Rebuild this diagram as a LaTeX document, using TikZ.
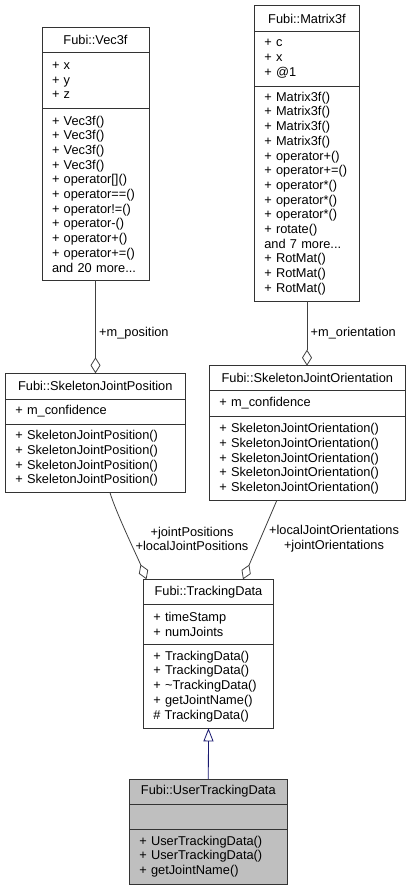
\documentclass[tikz,border=0pt]{standalone}
\usepackage{fontspec}
\setmainfont{Liberation Sans}
\usetikzlibrary{positioning,arrows.meta}
\definecolor{midnight}{RGB}{25,25,112}
\newcommand{\umlfont}{\fontsize{12.8}{14.7}\selectfont}

\begin{document}
\begin{tikzpicture}[x=1pt, y=-1pt,
  part/.style={draw=black!80, line width=0.9pt, anchor=north west, outer sep=0pt,
    inner xsep=10pt, inner ysep=0pt, font=\umlfont, align=left},
  title/.style={part, align=center},
  aggr/.style={draw=black!75, line width=0.8pt, -{Diamond[open, length=16pt, width=10pt]}},
  inherit/.style={draw=midnight, line width=0.8pt, -{Triangle[open, length=13pt, width=10pt]}},
  lbl/.style={font=\umlfont, align=center}]
\useasboundingbox (0,0) rectangle (411,891);

% Fubi::Vec3f
\node[title, text width=87pt, minimum height=25pt] (vecT) at (42,27.7) {Fubi::Vec3f};
\node[part, text width=87pt, minimum height=55.3pt, below=0pt of vecT] (vecA) {+ x\\+ y\\+ z};
\node[part, text width=87pt, minimum height=172pt, below=0pt of vecA] (vecM)
  {+ Vec3f()\\+ Vec3f()\\+ Vec3f()\\+ Vec3f()\\+ operator[]()\\+ operator==()\\+ operator!=()\\+ operator-()\\+ operator+()\\+ operator+=()\\and 20 more...};

% Fubi::Matrix3f
\node[title, text width=85.4pt, minimum height=26pt] (matT) at (254.3,5.7) {Fubi::Matrix3f};
\node[part, text width=85.4pt, minimum height=54.3pt, below=0pt of matT] (matA) {+ c\\+ x\\+ @1};
\node[part, text width=85.4pt, minimum height=215pt, below=0pt of matA] (matM)
  {+ Matrix3f()\\+ Matrix3f()\\+ Matrix3f()\\+ Matrix3f()\\+ operator+()\\+ operator+=()\\+ operator*()\\+ operator*()\\+ operator*()\\+ rotate()\\and 7 more...\\+ RotMat()\\+ RotMat()\\+ RotMat()};

% Fubi::SkeletonJointPosition
\node[title, text width=160pt, minimum height=25.7pt] (sjpT) at (5.3,373.3) {Fubi::SkeletonJointPosition};
\node[part, text width=160pt, minimum height=25pt, below=0pt of sjpT] (sjpA) {+ m\_confidence};
\node[part, text width=160pt, minimum height=68.7pt, below=0pt of sjpA] (sjpM)
  {+ SkeletonJointPosition()\\+ SkeletonJointPosition()\\+ SkeletonJointPosition()\\+ SkeletonJointPosition()};

% Fubi::SkeletonJointOrientation
\node[title, text width=176pt, minimum height=24.3pt] (sjoT) at (209.3,365.7) {Fubi::SkeletonJointOrientation};
\node[part, text width=176pt, minimum height=26.7pt, below=0pt of sjoT] (sjoA) {+ m\_confidence};
\node[part, text width=176pt, minimum height=84pt, below=0pt of sjoA] (sjoM)
  {+ SkeletonJointOrientation()\\+ SkeletonJointOrientation()\\+ SkeletonJointOrientation()\\+ SkeletonJointOrientation()\\+ SkeletonJointOrientation()};

% Fubi::TrackingData
\node[title, text width=110.4pt, minimum height=25pt] (tdT) at (143.3,579.3) {Fubi::TrackingData};
\node[part, text width=110.4pt, minimum height=40pt, below=0pt of tdT] (tdA) {+ timeStamp\\+ numJoints};
\node[part, text width=110.4pt, minimum height=84pt, below=0pt of tdA] (tdM)
  {+ TrackingData()\\+ TrackingData()\\+ \textasciitilde TrackingData()\\+ getJointName()\\\# TrackingData()};

% Fubi::UserTrackingData
\node[title, fill=gray!50, text width=138pt, minimum height=25.3pt] (utdT) at (129.3,779) {Fubi::UserTrackingData};
\node[part, fill=gray!50, text width=138pt, minimum height=25pt, below=0pt of utdT] (utdA) {};
\node[part, fill=gray!50, text width=138pt, minimum height=54.7pt, below=0pt of utdA] (utdM)
  {+ UserTrackingData()\\+ UserTrackingData()\\+ getJointName()};

% aggregations
\draw[aggr] (vecM.south) -- (vecM.south |- sjpT.north)
  node[lbl, pos=0.565, right] {+m\_position};
\draw[aggr] (matM.south) -- (matM.south |- sjoT.north)
  node[lbl, pos=0.49, right] {+m\_orientation};
\draw[aggr] ([xshift=14.7pt]sjpM.south) .. controls +(6,20) and +(-8,-20) .. ([xshift=-62pt]tdT.north);
\draw[aggr] ([xshift=-30.6pt]sjoM.south) .. controls +(-12,28) and +(12,-28) .. ([xshift=34.5pt]tdT.north);
\node[lbl] (posLbl) at (192,539) {+jointPositions\\+localJointPositions};
\node[lbl] (oriLbl) at (334,539) {+localJointOrientations\\+jointOrientations};

% inheritance
\draw[inherit] (utdT.north) -- (tdM.south);
\end{tikzpicture}
\end{document}
